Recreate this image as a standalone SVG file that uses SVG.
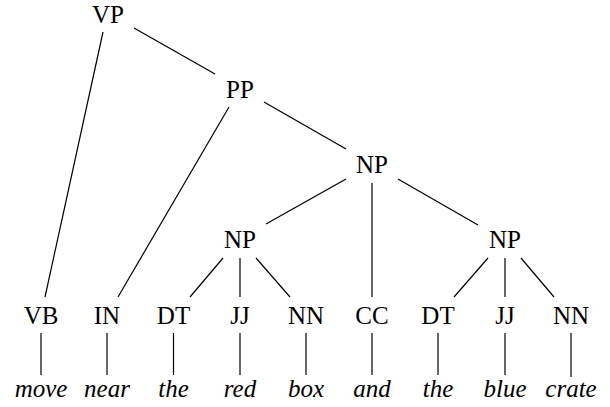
<svg xmlns="http://www.w3.org/2000/svg" width="610" height="407" viewBox="0 0 610 407">
<style>
text{font-family:"Liberation Serif","Times New Roman",serif;font-size:25px;fill:#000;text-anchor:middle}
.wd{font-style:italic}
.edges line{stroke:#000;stroke-width:1.2}
</style>
<rect width="610" height="407" fill="#fff"/>
<g class="edges" id="connectors">
<line x1="103" y1="32" x2="45" y2="297"/>
<line x1="134" y1="28" x2="215" y2="74"/>
<line x1="229" y1="107" x2="118" y2="297"/>
<line x1="264" y1="102" x2="346" y2="149"/>
<line x1="346" y1="179" x2="266" y2="224"/>
<line x1="372" y1="183" x2="372" y2="297"/>
<line x1="398" y1="179" x2="478" y2="225"/>
<line x1="223" y1="258" x2="190" y2="297"/>
<line x1="240" y1="258" x2="240" y2="297"/>
<line x1="256" y1="258" x2="290" y2="297"/>
<line x1="488" y1="258" x2="454" y2="297"/>
<line x1="505" y1="258" x2="505" y2="297"/>
<line x1="521" y1="258" x2="554" y2="297"/>
<line x1="41" y1="333" x2="41" y2="375"/>
<line x1="107" y1="333" x2="107" y2="375"/>
<line x1="173.5" y1="333" x2="173.5" y2="375"/>
<line x1="240" y1="333" x2="240" y2="375"/>
<line x1="306" y1="333" x2="306" y2="375"/>
<line x1="372" y1="333" x2="372" y2="375"/>
<line x1="438" y1="333" x2="438" y2="375"/>
<line x1="505" y1="333" x2="505" y2="375"/>
<line x1="571" y1="333" x2="571" y2="377"/>
</g>
<g id="VP"><text x="108" y="23">VP</text></g>
<g id="PP"><text x="240" y="98">PP</text></g>
<g id="NP1"><text x="372" y="173">NP</text></g>
<g id="NP2"><text x="240" y="248">NP</text></g>
<g id="NP3"><text x="505" y="248">NP</text></g>
<g id="VB"><text x="41" y="324">VB</text></g>
<g id="IN"><text x="107" y="324">IN</text></g>
<g id="DT1"><text x="173.5" y="324">DT</text></g>
<g id="JJ1"><text x="240" y="324">JJ</text></g>
<g id="NN1"><text x="306" y="324">NN</text></g>
<g id="CC"><text x="372" y="324">CC</text></g>
<g id="DT2"><text x="438" y="324">DT</text></g>
<g id="JJ2"><text x="505" y="324">JJ</text></g>
<g id="NN2"><text x="571" y="324">NN</text></g>
<g id="w-move"><text class="wd" x="41" y="397">move</text></g>
<g id="w-near"><text class="wd" x="107" y="397">near</text></g>
<g id="w-the1"><text class="wd" x="173.5" y="397">the</text></g>
<g id="w-red"><text class="wd" x="240" y="397">red</text></g>
<g id="w-box"><text class="wd" x="306" y="397">box</text></g>
<g id="w-and"><text class="wd" x="372" y="397">and</text></g>
<g id="w-the2"><text class="wd" x="438" y="397">the</text></g>
<g id="w-blue"><text class="wd" x="505" y="397">blue</text></g>
<g id="w-crate"><text class="wd" x="571" y="397">crate</text></g>
</svg>
